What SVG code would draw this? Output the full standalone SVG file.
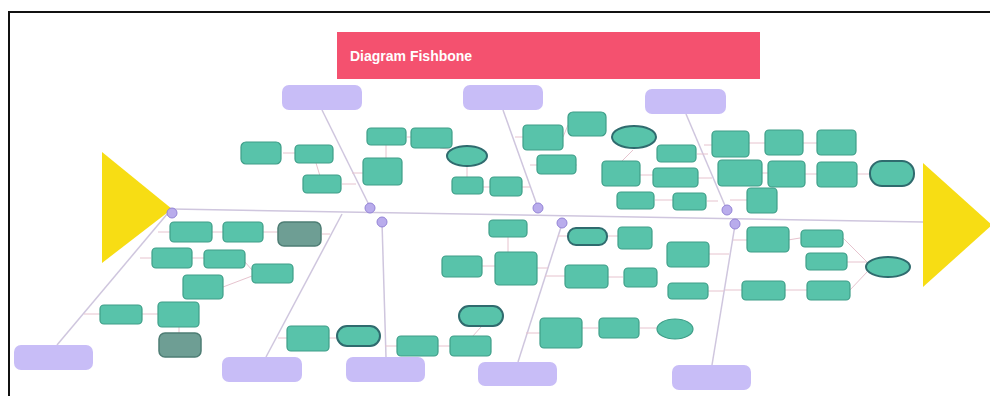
<svg xmlns="http://www.w3.org/2000/svg" width="990" height="396" viewBox="0 0 990 396">
<style>
.n{fill:#58C3AA;stroke:#3E9E88;stroke-width:1.2}
.g{fill:#6E9E94;stroke:#4E7D74;stroke-width:1.5}
.e{fill:#58C3AA;stroke:#2F6B6E;stroke-width:2}
.c{fill:#C8BDF7}
.j{fill:#B9ACEC;stroke:#9484D6;stroke-width:1}
.b{stroke:#CFC6DE;stroke-width:1.5;fill:none}
.l{stroke:#E6C3CE;stroke-width:1;fill:none}
.t{font-family:"Liberation Sans",Arial,sans-serif;font-weight:bold;fill:#FFFFFF}
</style>
<rect x="0" y="0" width="990" height="396" fill="#FFFFFF"/>
<path d="M9 396 V12 H990" fill="none" stroke="#111" stroke-width="2"/>
<g id="title"><rect x="337" y="32" width="423" height="47" fill="#F4516F"/><text class="t" x="350" y="61" font-size="14">Diagram Fishbone</text></g>
<g id="connectors">
<line class="b" x1="172" y1="209" x2="923" y2="222"/>
<line class="b" x1="322" y1="110" x2="370" y2="207"/>
<line class="b" x1="503" y1="110" x2="538" y2="208"/>
<line class="b" x1="686" y1="114" x2="726" y2="208"/>
<line class="b" x1="57" y1="345" x2="168" y2="213"/>
<line class="b" x1="266" y1="357" x2="342" y2="214"/>
<line class="b" x1="386" y1="357" x2="382" y2="222"/>
<line class="b" x1="518" y1="362" x2="562" y2="224"/>
<line class="b" x1="712" y1="365" x2="735" y2="225"/>
<path class="l" d="M283 153H295M316 163L320 176M342 184H356M363 173H352M386 145V158M407 137H412M440 148L455 150M467 166V178M483 187H490M522 187H530M563 137L568 125M577 165H530M523 137H515M633 150L621 162M640 175H653M698 178H712M697 154H708M712 145H704M748 143H765M803 143H817M762 173H768M805 174H817M857 174H870M655 200H673M707 201H718M747 200H730"/>
<path class="l" d="M212 232H223M263 232H278M170 232H158M151 258H140M192 258H204M245 262L252 270M223 287L252 276M142 314H158M100 314H84M179 327V333M287 338H278M329 338H337M322 234H330M397 346H385M438 346H450M481 327L472 337M540 333H526M582 328H598M640 328H657M537 268H548M482 266H495M508 237V252M568 236H558M607 236H618M565 276H545M607 277H623M709 254H729M708 291H724M742 290H725M785 290H807M747 240H733M788 240L800 238M843 238L867 262M847 262H867M850 290L867 272"/>
</g>
<g id="head-left"><polygon points="102,152 102,263 172,209" fill="#F7DD14"/></g>
<g id="head-right"><polygon points="923,163 923,287 992,225" fill="#F7DD14"/></g>
<g id="junctions">
<circle class="j" cx="172" cy="213" r="5"/>
<circle class="j" cx="370" cy="208" r="5"/>
<circle class="j" cx="382" cy="222" r="5"/>
<circle class="j" cx="538" cy="208" r="5"/>
<circle class="j" cx="562" cy="223" r="5"/>
<circle class="j" cx="727" cy="210" r="5"/>
<circle class="j" cx="735" cy="224" r="5"/>
</g>
<g id="cat-top1"><rect class="c" x="282" y="85" width="80" height="25" rx="7"/></g>
<g id="cat-top2"><rect class="c" x="463" y="85" width="80" height="25" rx="7"/></g>
<g id="cat-top3"><rect class="c" x="645" y="89" width="81" height="25" rx="7"/></g>
<g id="cat-bot1"><rect class="c" x="14" y="345" width="79" height="25" rx="7"/></g>
<g id="cat-bot2"><rect class="c" x="222" y="357" width="80" height="25" rx="7"/></g>
<g id="cat-bot3"><rect class="c" x="346" y="357" width="79" height="25" rx="7"/></g>
<g id="cat-bot4"><rect class="c" x="478" y="362" width="79" height="24" rx="7"/></g>
<g id="cat-bot5"><rect class="c" x="672" y="365" width="79" height="25" rx="7"/></g>
<g id="n1"><rect class="n" x="241" y="142" width="40" height="22" rx="5" stroke="#D9A0B0"/></g>
<g id="n2"><rect class="n" x="295" y="145" width="38" height="18" rx="4"/></g>
<g id="n3"><rect class="n" x="303" y="175" width="38" height="18" rx="4"/></g>
<g id="n4"><rect class="n" x="367" y="128" width="39" height="17" rx="4"/></g>
<g id="n5"><rect class="n" x="363" y="158" width="39" height="27" rx="4"/></g>
<g id="n6"><rect class="n" x="411" y="128" width="41" height="20" rx="4"/></g>
<g id="n7"><ellipse class="e" cx="467" cy="156" rx="20" ry="10"/></g>
<g id="n8"><rect class="n" x="452" y="177" width="31" height="17" rx="4"/></g>
<g id="n9"><rect class="n" x="490" y="177" width="32" height="19" rx="4"/></g>
<g id="n10"><rect class="n" x="523" y="125" width="40" height="25" rx="4"/></g>
<g id="n11"><rect class="n" x="568" y="112" width="38" height="24" rx="5" stroke="#4D7F77" stroke-width="1.8"/></g>
<g id="n12"><rect class="n" x="537" y="155" width="39" height="19" rx="4"/></g>
<g id="n13"><ellipse class="e" cx="634" cy="137" rx="22" ry="11" stroke="#3C7FA0"/></g>
<g id="n14"><rect class="n" x="602" y="161" width="38" height="25" rx="4"/></g>
<g id="n15"><rect class="n" x="657" y="145" width="39" height="17" rx="4"/></g>
<g id="n16"><rect class="n" x="653" y="168" width="45" height="19" rx="4"/></g>
<g id="n17"><rect class="n" x="617" y="192" width="37" height="17" rx="4"/></g>
<g id="n18"><rect class="n" x="673" y="193" width="33" height="17" rx="4"/></g>
<g id="n19"><rect class="n" x="712" y="131" width="37" height="26" rx="4"/></g>
<g id="n20"><rect class="n" x="765" y="130" width="38" height="25" rx="4"/></g>
<g id="n21"><rect class="n" x="817" y="130" width="39" height="25" rx="4"/></g>
<g id="n22"><rect class="n" x="718" y="160" width="44" height="26" rx="4"/></g>
<g id="n23"><rect class="n" x="768" y="161" width="37" height="26" rx="4"/></g>
<g id="n24"><rect class="n" x="817" y="162" width="40" height="25" rx="4"/></g>
<g id="n25"><rect class="e" x="870" y="161" width="44" height="25" rx="12"/></g>
<g id="n26"><rect class="n" x="747" y="188" width="30" height="25" rx="4"/></g>
<g id="n27"><rect class="n" x="170" y="222" width="42" height="20" rx="4"/></g>
<g id="n28"><rect class="n" x="223" y="222" width="40" height="20" rx="4"/></g>
<g id="n29"><rect class="g" x="278" y="222" width="43" height="24" rx="6"/></g>
<g id="n30"><rect class="n" x="152" y="248" width="40" height="20" rx="4"/></g>
<g id="n31"><rect class="n" x="204" y="250" width="41" height="18" rx="4"/></g>
<g id="n32"><rect class="n" x="252" y="264" width="41" height="19" rx="4"/></g>
<g id="n33"><rect class="n" x="183" y="275" width="40" height="24" rx="4"/></g>
<g id="n34"><rect class="n" x="100" y="305" width="42" height="19" rx="4"/></g>
<g id="n35"><rect class="n" x="158" y="302" width="41" height="25" rx="4"/></g>
<g id="n36"><rect class="g" x="159" y="333" width="42" height="24" rx="6"/></g>
<g id="n37"><rect class="n" x="287" y="326" width="42" height="25" rx="4"/></g>
<g id="n38"><rect class="e" x="337" y="326" width="43" height="20" rx="10"/></g>
<g id="n39"><rect class="n" x="397" y="336" width="41" height="20" rx="4"/></g>
<g id="n40"><rect class="n" x="450" y="336" width="41" height="20" rx="4"/></g>
<g id="n41"><rect class="e" x="459" y="306" width="44" height="20" rx="10"/></g>
<g id="n42"><rect class="n" x="489" y="220" width="38" height="17" rx="4"/></g>
<g id="n43"><rect class="n" x="442" y="256" width="40" height="21" rx="4"/></g>
<g id="n44"><rect class="n" x="495" y="252" width="42" height="33" rx="4"/></g>
<g id="n45"><rect class="e" x="568" y="228" width="39" height="17" rx="8" stroke-width="1.5"/></g>
<g id="n46"><rect class="n" x="618" y="227" width="34" height="22" rx="4"/></g>
<g id="n47"><rect class="n" x="565" y="265" width="43" height="23" rx="4"/></g>
<g id="n48"><rect class="n" x="624" y="268" width="33" height="19" rx="4"/></g>
<g id="n49"><rect class="n" x="540" y="318" width="42" height="30" rx="4"/></g>
<g id="n50"><rect class="n" x="599" y="318" width="40" height="20" rx="4"/></g>
<g id="n51"><ellipse class="n" cx="675" cy="329" rx="18" ry="10"/></g>
<g id="n52"><rect class="n" x="667" y="242" width="42" height="25" rx="4"/></g>
<g id="n53"><rect class="n" x="668" y="283" width="40" height="16" rx="4"/></g>
<g id="n54"><rect class="n" x="747" y="227" width="42" height="25" rx="4"/></g>
<g id="n55"><rect class="n" x="801" y="230" width="42" height="17" rx="4"/></g>
<g id="n56"><rect class="n" x="806" y="253" width="41" height="17" rx="4"/></g>
<g id="n57"><ellipse class="e" cx="888" cy="267" rx="22" ry="10"/></g>
<g id="n58"><rect class="n" x="742" y="281" width="43" height="19" rx="4"/></g>
<g id="n59"><rect class="n" x="807" y="281" width="43" height="19" rx="4"/></g>
</svg>
